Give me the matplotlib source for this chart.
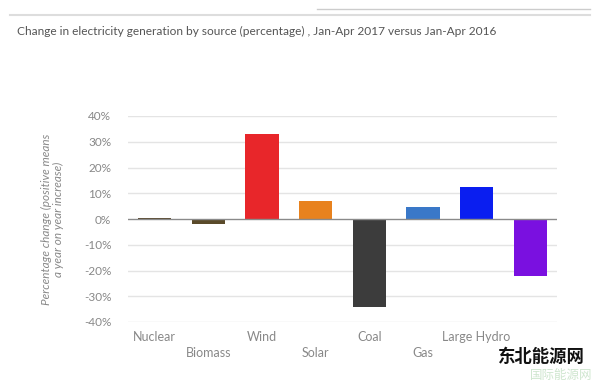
import matplotlib
matplotlib.use("Agg")
import matplotlib.pyplot as plt
from matplotlib.lines import Line2D

categories = ["Nuclear", "Biomass", "Wind", "Solar", "Coal", "Gas", "Large Hydro", ""]
values = [0.2, -2.0, 33.0, 7.0, -34.0, 4.5, 12.5, -22.0]
colors = ["#5a4a30", "#5a4a2a", "#e8262a", "#e8821e", "#3c3c3c", "#3a78c8", "#0a1ef0", "#7a10e0"]
yticks = [-40, -30, -20, -10, 0, 10, 20, 30, 40]
title = "Change in electricity generation by source (percentage) , Jan-Apr 2017 versus Jan-Apr 2016"
ylabel = "Percentage change (positive means\na year on year increase)"

plt.rcParams['font.family'] = ['Lato', 'DejaVu Sans']

fig = plt.figure(figsize=(6, 3.82), dpi=100)
ax = fig.add_axes([128/600, 1-322/382, (557-128)/600, (322-116)/382])

x = list(range(len(categories)))
ax.bar(x, values, width=0.62, color=colors, zorder=3)
ax.set_xlim(-0.5, len(categories) - 0.5)
ax.set_ylim(-40, 40)
ax.set_yticks(yticks)
ax.set_yticklabels([f"{t}%" for t in yticks], color="#888888", fontsize=8.5)
for t in yticks:
    if t != 0:
        ax.axhline(t, color="#e4e4e4", lw=1, zorder=1)
ax.axhline(0, color="#8a8a8a", lw=1, zorder=4)
for s in ax.spines.values():
    s.set_visible(False)
ax.tick_params(axis="y", length=0, pad=12)
ax.tick_params(axis="x", length=0)
ax.set_xticks([])
for i, c in enumerate(categories):
    off = 0 if i % 2 == 0 else 1
    ax.text(i, -43.5 - off * 6.2, c, ha="center", va="top", fontsize=9, color="#888888")

fig.text(52/600, 1-219/382, ylabel, rotation=90, ha="center", va="center",
         fontsize=8.5, style="italic", color="#888888", linespacing=1.1)
fig.text(17/600, 1-31/382, title, ha="left", va="center", fontsize=8.6, color="#555555")

fig.add_artist(Line2D([10/600, 590/600], [1-15/382, 1-15/382], color="#dddddd", lw=1.5))
fig.add_artist(Line2D([317/600, 590/600], [1-9/382, 1-9/382], color="#cccccc", lw=1))

fig.text(585/600, 1-357/382, "东北能源网", ha="right", va="center", fontsize=12.5,
         fontweight="bold", color="#111111", family=['Noto Sans CJK SC', 'DejaVu Sans'], zorder=10)
fig.text(592/600, 1-375/382, "国际能源网", ha="right", va="center", fontsize=9,
         color="#cfe6cf", family=['Noto Sans CJK SC', 'DejaVu Sans'], zorder=9)

fig.savefig("out.png", dpi=100, facecolor="white")
